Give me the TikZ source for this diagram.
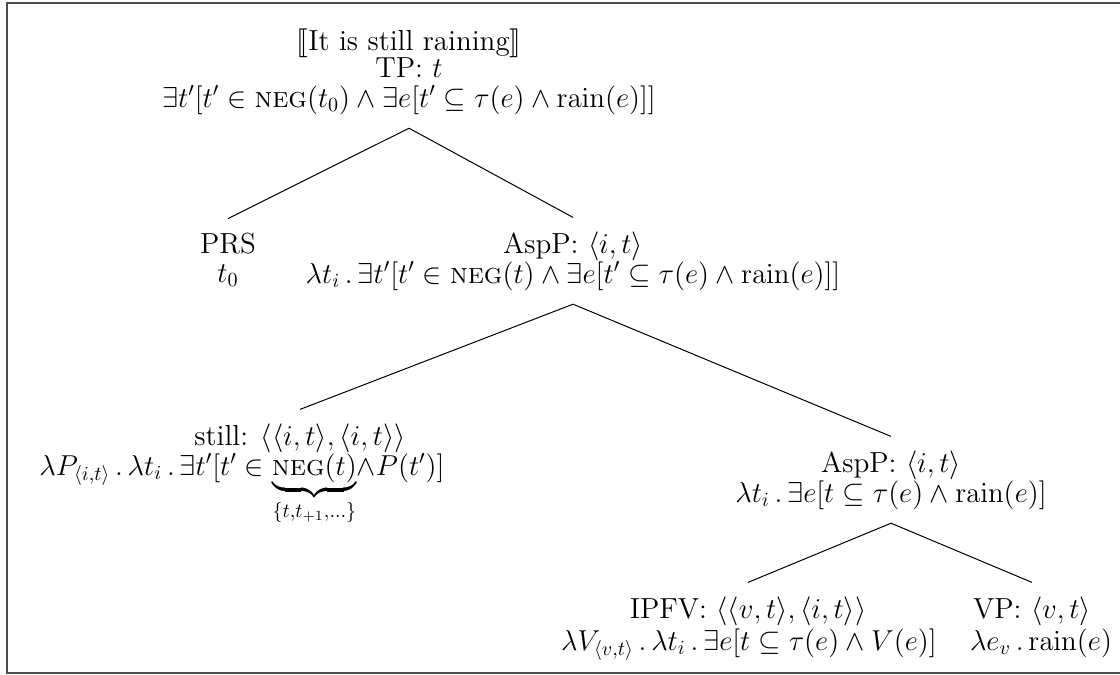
\documentclass[tikz,border=0pt]{standalone}
\usepackage{amsmath,amssymb,stmaryrd}
\newcommand{\negop}{\textsc{neg}}
\newcommand{\rn}{\mathrm{rain}}
\begin{document}
\begin{tikzpicture}[x=0.5pt,y=-0.5pt,
  lbl/.style={anchor=base,inner sep=0pt,outer xsep=0pt,outer ysep=7pt,font=\fontsize{14.5}{16}\selectfont},
  branch/.style={line width=0.5pt},
  frame/.style={line width=1.1pt,black!70}]
\useasboundingbox (0,0) rectangle (1120,675);
% outer frame (open on the right)
\draw[frame] (1130,3) -- (7,3) -- (7,673) -- (1130,673);

% root: TP
\node[lbl] (rootname) at (409,50) {$\llbracket$It is still raining$\rrbracket$};
\node[lbl] (root) at (409,77) {TP: $t$};
\node[lbl] (rootsem) at (409,107) {$\exists t'[t'\in\negop(t_0)\wedge\exists e[t'\subseteq\tau(e)\wedge\rn(e)]]$};

% PRS
\node[lbl] (prs) at (228,253) {PRS};
\node[lbl] (prssem) at (228,282) {$t_0$};

% upper AspP
\node[lbl] (asp) at (573,253) {AspP: $\langle i,t\rangle$};
\node[lbl] (aspsem) at (573,283) {$\lambda t_i\,.\,\exists t'[t'\in\negop(t)\wedge\exists e[t'\subseteq\tau(e)\wedge\rn(e)]]$};

% still
\node[lbl] (still) at (300,445) {still: $\langle\langle i,t\rangle,\langle i,t\rangle\rangle$};
\node[lbl] (stillsem) at (242,475) {$\lambda P_{\langle i,t\rangle}\,.\,\lambda t_i\,.\,\exists t'[t'\in\underbrace{\negop(t)}_{\{t,t_{+1},\ldots\}}\!\wedge P(t')]$};

% lower AspP
\node[lbl] (asplow) at (891,472) {AspP: $\langle i,t\rangle$};
\node[lbl] (asplowsem) at (891,502) {$\lambda t_i\,.\,\exists e[t\subseteq\tau(e)\wedge\rn(e)]$};

% IPFV
\node[lbl] (ipfv) at (748,618) {IPFV: $\langle\langle v,t\rangle,\langle i,t\rangle\rangle$};
\node[lbl] (ipfvsem) at (749,650) {$\lambda V_{\langle v,t\rangle}\,.\,\lambda t_i\,.\,\exists e[t\subseteq\tau(e)\wedge V(e)]$};

% VP
\node[lbl] (vp) at (1032,618) {VP: $\langle v,t\rangle$};
\node[lbl] (vpsem) at (1041,650) {$\lambda e_v\,.\,\rn(e)$};

% branches
\draw[branch] (rootsem.south) -- (prs.north);
\draw[branch] (rootsem.south) -- (asp.north);
\draw[branch] (aspsem.south) -- (still.north);
\draw[branch] (aspsem.south) -- (asplow.north);
\draw[branch] (asplowsem.south) -- (ipfv.north);
\draw[branch] (asplowsem.south) -- (vp.north);
\end{tikzpicture}
\end{document}
